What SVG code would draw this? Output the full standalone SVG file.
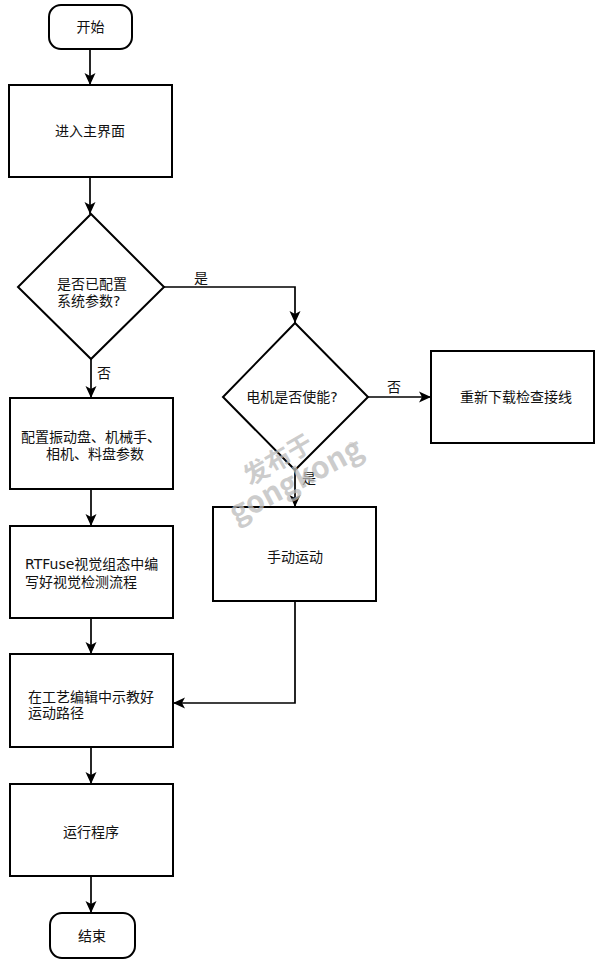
<svg xmlns="http://www.w3.org/2000/svg" width="600" height="968" viewBox="0 0 600 968">
<style>
.n{fill:#fff;stroke:#000;stroke-width:2}
.t{font-family:"DejaVu Sans","Noto Sans CJK SC",sans-serif;font-size:14px;fill:#111}
.c{text-anchor:middle}
.e{fill:none;stroke:#000;stroke-width:1.7}
.wm{font-family:"Noto Sans CJK SC","DejaVu Sans",sans-serif;fill:#bbb;fill-opacity:0.75}
</style>
<defs>
<marker id="arr" markerWidth="12" markerHeight="12" viewBox="0 0 12 12" refX="12" refY="6" orient="auto" markerUnits="userSpaceOnUse">
<path d="M0,0.5 L12,6 L0,11.5 L3,6 z" fill="#000"/>
</marker>
</defs>
<rect width="600" height="968" fill="#fff"/>
<g id="connectors">
<path class="e" d="M90,49 V85" marker-end="url(#arr)"/>
<path class="e" d="M90,177 V214" marker-end="url(#arr)"/>
<path class="e" d="M164,287 H295 V323" marker-end="url(#arr)"/>
<path class="e" d="M91,359 V398" marker-end="url(#arr)"/>
<path class="e" d="M368,397 H431" marker-end="url(#arr)"/>
<path class="e" d="M295,470 V507" marker-end="url(#arr)"/>
<path class="e" d="M91,489 V526" marker-end="url(#arr)"/>
<path class="e" d="M91,618 V654" marker-end="url(#arr)"/>
<path class="e" d="M295,601 V703 H173" marker-end="url(#arr)"/>
<path class="e" d="M91,747 V784" marker-end="url(#arr)"/>
<path class="e" d="M91,876 V913" marker-end="url(#arr)"/>
<text class="t" x="194" y="283">是</text>
<text class="t" x="97" y="378">否</text>
<text class="t" x="387" y="392">否</text>
<text class="t" x="302" y="483">是</text>
</g>
<g id="start">
<rect class="n" x="49" y="5" width="83" height="44" rx="12"/>
<text class="t c" x="90.5" y="32">开始</text>
</g>
<g id="main">
<rect class="n" x="9" y="85" width="163" height="92"/>
<text class="t c" x="90" y="136">进入主界面</text>
</g>
<g id="check-config">
<polygon class="n" points="91,214 164,287 91,359 18,287"/>
<text class="t" x="57" y="289">是否已配置</text>
<text class="t" x="57" y="306">系统参数?</text>
</g>
<g id="config">
<rect class="n" x="10" y="398" width="163" height="91"/>
<text class="t c" x="91" y="442">配置振动盘、机械手、</text>
<text class="t c" x="95" y="459">相机、料盘参数</text>
</g>
<g id="vision">
<rect class="n" x="10" y="526" width="163" height="92"/>
<text class="t" x="25" y="569">RTFuse视觉组态中编</text>
<text class="t" x="25" y="587">写好视觉检测流程</text>
</g>
<g id="path">
<rect class="n" x="10" y="654" width="163" height="93"/>
<text class="t" x="28" y="702">在工艺编辑中示教好</text>
<text class="t" x="28" y="718">运动路径</text>
</g>
<g id="run">
<rect class="n" x="10" y="784" width="163" height="92"/>
<text class="t c" x="91" y="837">运行程序</text>
</g>
<g id="end">
<rect class="n" x="50" y="913" width="85" height="45" rx="12"/>
<text class="t c" x="92" y="941">结束</text>
</g>
<g id="motor-check">
<polygon class="n" points="295,323 368,397 295,470 223,397"/>
<text class="t c" x="292" y="402">电机是否使能?</text>
</g>
<g id="reload">
<rect class="n" x="431" y="351" width="163" height="92"/>
<text class="t c" x="516" y="402">重新下载检查接线</text>
</g>
<g id="manual">
<rect class="n" x="213" y="507" width="163" height="94"/>
<text class="t c" x="295" y="562">手动运动</text>
</g>
<g id="watermark">
<text class="wm" x="0" y="0" font-size="25" font-weight="bold" transform="translate(250,486) rotate(-30)">发布于</text>
<text class="wm" x="0" y="0" font-size="30" font-weight="bold" transform="translate(236,524) rotate(-28)">gongkong</text>
<text class="wm" x="0" y="0" font-size="12" transform="translate(352,452) rotate(-28)">®</text>
</g>
</svg>
